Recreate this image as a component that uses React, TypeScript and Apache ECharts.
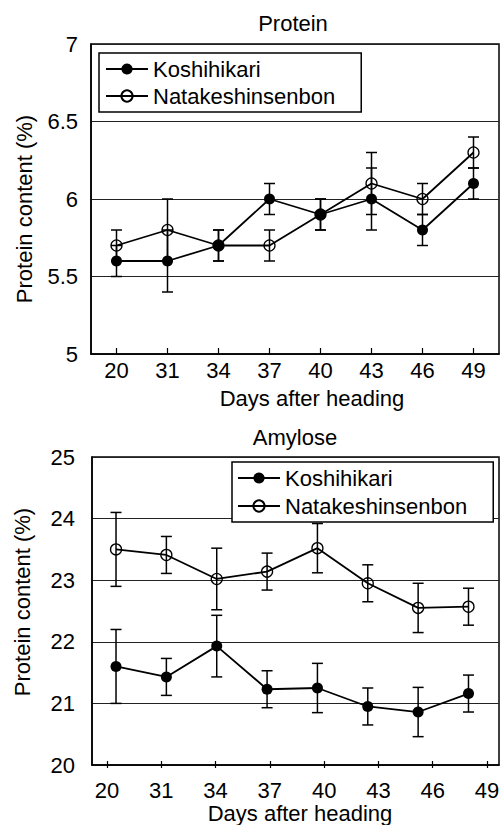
import React, { useEffect, useRef } from "react";
import * as echarts from "echarts";

const days = ["20", "31", "34", "37", "40", "43", "46", "49"];
const seriesNames = ["Koshihikari", "Natakeshinsenbon"];

const proteinKoshi = [5.6, 5.6, 5.7, 6.0, 5.9, 6.0, 5.8, 6.1];
const proteinKoshiErr = [0.1, 0.2, 0.1, 0.1, 0.1, 0.2, 0.1, 0.1];
const proteinNatake = [5.7, 5.8, 5.7, 5.7, 5.9, 6.1, 6.0, 6.3];
const proteinNatakeErr = [0.1, 0.2, 0.1, 0.1, 0.1, 0.2, 0.1, 0.1];

const amyloseKoshi = [21.6, 21.43, 21.93, 21.23, 21.25, 20.95, 20.86, 21.16];
const amyloseKoshiErr = [0.6, 0.3, 0.5, 0.3, 0.4, 0.3, 0.4, 0.3];
const amyloseNatake = [23.5, 23.41, 23.02, 23.14, 23.52, 22.95, 22.55, 22.57];
const amyloseNatakeErr = [0.6, 0.3, 0.5, 0.3, 0.4, 0.3, 0.4, 0.3];

const FONT = "'Liberation Sans', Arial, Helvetica, sans-serif";
const FS = 22;

function errData(vals: number[], errs: number[]) {
  return vals.map((v, i) => [i, v - errs[i], v + errs[i]]);
}

function errSeries(data: number[][], xAxisIndex: number, yAxisIndex: number) {
  return {
    type: "custom",
    xAxisIndex,
    yAxisIndex,
    z: 1,
    silent: true,
    encode: { x: 0, y: [1, 2] },
    data,
    renderItem: (params: any, api: any) => {
      const x = api.value(0);
      const lo = api.coord([x, api.value(1)]);
      const hi = api.coord([x, api.value(2)]);
      const w = 5.5;
      const st = { stroke: "#000", lineWidth: 1.5 };
      return {
        type: "group",
        children: [
          { type: "line", shape: { x1: lo[0], y1: lo[1], x2: hi[0], y2: hi[1] }, style: st },
          { type: "line", shape: { x1: lo[0] - w, y1: lo[1], x2: lo[0] + w, y2: lo[1] }, style: st },
          { type: "line", shape: { x1: hi[0] - w, y1: hi[1], x2: hi[0] + w, y2: hi[1] }, style: st },
        ],
      };
    },
  };
}

function lineSeries(name: string, data: any[], filled: boolean, xAxisIndex: number, yAxisIndex: number) {
  return {
    type: "line",
    name,
    xAxisIndex,
    yAxisIndex,
    z: 3,
    data,
    symbol: "circle",
    symbolSize: 11,
    lineStyle: { color: "#000", width: 1.8 },
    itemStyle: filled
      ? { color: "#000", borderColor: "#000", borderWidth: 0 }
      : { color: "rgba(0,0,0,0)", borderColor: "#000", borderWidth: 1.3 },
  };
}

const txt = (text: string, x: number, y: number, rotation = 0) => ({
  type: "text",
  x,
  y,
  rotation,
  style: {
    text,
    fill: "#000",
    font: `${FS}px ${FONT}`,
    align: "center",
    verticalAlign: "middle",
  },
});

export default function App() {
  const ref = useRef<HTMLDivElement>(null);
  useEffect(() => {
    if (!ref.current) return;
    const chart = echarts.init(ref.current, undefined, { renderer: "svg" });
    const axisLine = { show: true, onZero: false, lineStyle: { color: "#000", width: 1.5 } };
    const splitLine = { show: true, lineStyle: { color: "#222", width: 1 } };
    const labelStyle = { color: "#000", fontSize: FS, fontFamily: FONT };
    const tickLine = { color: "#000", width: 1.2 };
    const legendBase = {
      orient: "vertical",
      data: seriesNames,
      itemWidth: 42,
      itemHeight: 14,
      itemGap: 5,
      borderColor: "#000",
      borderWidth: 1.5,
      borderRadius: 0,
      backgroundColor: "#fff",
      selectedMode: false,
      textStyle: { color: "#000", fontSize: FS, fontFamily: FONT, lineHeight: 20 },
    };
    const option: any = {
      animation: false,
      backgroundColor: "#fff",
      grid: [
        { left: 91, top: 44, width: 408, height: 310, show: true, borderColor: "#000", borderWidth: 1.5, backgroundColor: "transparent" },
        { left: 92, top: 457, width: 407, height: 308, show: true, borderColor: "#000", borderWidth: 1.5, backgroundColor: "transparent" },
        { left: 107, top: 457, width: 380, height: 308, show: false },
      ],
      legend: [
        { ...legendBase, left: 99, top: 53, padding: [5, 26, 5, 6], z: 10 },
        { ...legendBase, left: 232, top: 462, padding: [5, 26, 5, 5], itemGap: 6, z: 10 },
      ],
      xAxis: [
        {
          type: "category",
          gridIndex: 0,
          data: days,
          boundaryGap: true,
          axisLine,
          axisTick: { show: true, inside: true, length: 6, alignWithLabel: true, lineStyle: tickLine },
          axisLabel: { ...labelStyle, margin: 5 },
          splitLine: { show: false },
        },
        {
          type: "value",
          gridIndex: 1,
          min: -0.477,
          max: 7.606,
          axisLine: { show: true, onZero: false, lineStyle: { color: "#000", width: 1.5 } },
          axisTick: { show: false },
          axisLabel: { show: false },
          splitLine: { show: false },
        },
        {
          type: "category",
          gridIndex: 2,
          data: days,
          boundaryGap: false,
          position: "bottom",
          axisLine: { show: false },
          axisTick: { show: true, inside: true, length: 4, interval: 0, lineStyle: tickLine },
          axisLabel: { ...labelStyle, margin: 14, interval: 0 },
          splitLine: { show: false },
        },
        {
          type: "category",
          gridIndex: 2,
          data: days,
          boundaryGap: false,
          position: "bottom",
          offset: 0,
          axisLine: { show: false },
          axisTick: { show: true, inside: false, length: 3, interval: 0, lineStyle: tickLine },
          axisLabel: { show: false },
          splitLine: { show: false },
        },
      ],
      yAxis: [
        {
          type: "value",
          gridIndex: 0,
          min: 5,
          max: 7,
          interval: 0.5,
          axisLine,
          axisTick: { show: false },
          axisLabel: { ...labelStyle, margin: 13 },
          splitLine,
        },
        {
          type: "value",
          gridIndex: 1,
          min: 20,
          max: 25,
          interval: 1,
          axisLine,
          axisTick: { show: false },
          axisLabel: { ...labelStyle, margin: 17 },
          splitLine,
        },
        {
          type: "value",
          gridIndex: 2,
          min: 0,
          max: 1,
          show: false,
        },
      ],
      graphic: [
        txt("Protein", 293, 23),
        txt("Days after heading", 312, 398),
        txt("Protein content (%)", 24, 209, Math.PI / 2),
        txt("Amylose", 295, 437),
        txt("Days after heading", 300, 813),
        txt("Protein content (%)", 22, 602, Math.PI / 2),
      ],
      series: [
        errSeries(errData(proteinKoshi, proteinKoshiErr), 0, 0),
        errSeries(errData(proteinNatake, proteinNatakeErr), 0, 0),
        lineSeries(seriesNames[0], proteinKoshi, true, 0, 0),
        lineSeries(seriesNames[1], proteinNatake, false, 0, 0),
        errSeries(errData(amyloseKoshi, amyloseKoshiErr), 1, 1),
        errSeries(errData(amyloseNatake, amyloseNatakeErr), 1, 1),
        lineSeries(seriesNames[0], amyloseKoshi.map((v, i) => [i, v]), true, 1, 1),
        lineSeries(seriesNames[1], amyloseNatake.map((v, i) => [i, v]), false, 1, 1),
      ],
    };
    chart.setOption(option);
    return () => chart.dispose();
  }, []);
  return (
    <div
      ref={ref}
      style={{ position: "fixed", left: 0, top: 0, width: 504, height: 825, background: "#fff" }}
    />
  );
}
